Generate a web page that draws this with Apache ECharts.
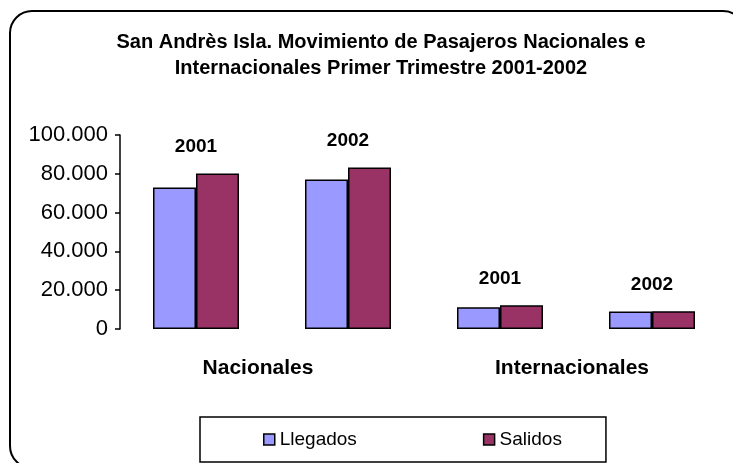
<!DOCTYPE html>
<html>
<head>
<meta charset="utf-8">
<script src="https://cdn.jsdelivr.net/npm/echarts@6/dist/echarts.min.js"></script>
<style>
  html, body { margin: 0; padding: 0; background: #fff; }
  #chart { width: 733px; height: 463px; }
</style>
</head>
<body>
<div id="chart"></div>
<script>
// Data
const categories = ['Nacionales 2001', 'Nacionales 2002', 'Internacionales 2001', 'Internacionales 2002']
const yearLabels = ['2001', '2002', '2001', '2002']
const groups = ['Nacionales', 'Internacionales']
const llegados = [73000, 77000, 11200, 9000]
const salidos = [80200, 83200, 12200, 9200]
const yTicks = [0, 20000, 40000, 60000, 80000, 100000]

const font = "'Liberation Sans', Arial, sans-serif"

const formatThousands = v => String(v).replace(/\B(?=(\d{3})+(?!\d))/g, '.')

// group labels sit a bit left of the group centre in the original
const groupLabelPad = [28, 8]

const chart = echarts.init(document.getElementById('chart'))

const option = {
  animation: false,
  backgroundColor: '#fff',
  title: {
    text: 'San Andrès Isla. Movimiento de Pasajeros Nacionales e\nInternacionales Primer Trimestre 2001-2002',
    left: 381,
    top: 29,
    padding: 0,
    textAlign: 'center',
    textStyle: {
      fontFamily: font,
      fontSize: 20,
      fontWeight: 'bold',
      color: '#000',
      lineHeight: 26,
    },
  },
  legend: {
    left: 200,
    top: 417,
    padding: [13, 44, 13, 63],
    itemGap: 126,
    itemWidth: 11,
    itemHeight: 11,
    itemStyle: { borderColor: '#000', borderWidth: 1.5 },
    borderColor: '#000',
    borderWidth: 1.5,
    icon: 'rect',
    textStyle: { fontFamily: font, fontSize: 19, color: '#000' },
    data: ['Llegados', 'Salidos'],
  },
  grid: {
    left: 120,
    right: 5,
    top: 135,
    bottom: 134,
  },
  xAxis: [
    {
      type: 'category',
      data: categories,
      axisLine: { show: false },
      axisTick: { show: false },
      axisLabel: { show: false },
    },
    {
      type: 'category',
      data: groups.map((g, i) => ({ value: g, textStyle: { padding: [0, groupLabelPad[i], 0, 0] } })),
      position: 'bottom',
      axisLine: { show: false },
      axisTick: { show: false },
      axisLabel: {
        margin: 29,
        fontFamily: font,
        fontSize: 21,
        fontWeight: 'bold',
        color: '#000',
      },
    },
  ],
  yAxis: {
    type: 'value',
    min: yTicks[0],
    max: yTicks[yTicks.length - 1],
    interval: 20000,
    splitLine: { show: false },
    axisLine: { show: true, lineStyle: { color: '#000', width: 1.5 } },
    axisTick: { show: true, length: 5, lineStyle: { color: '#000', width: 1.5 } },
    axisLabel: {
      margin: 12,
      fontFamily: font,
      fontSize: 22,
      color: '#000',
      formatter: formatThousands,
    },
  },
  series: [
    {
      name: 'Llegados',
      type: 'bar',
      data: llegados,
      barWidth: 43,
      barGap: '0%',
      itemStyle: { color: '#9999ff', borderColor: '#000', borderWidth: 1.5 },
    },
    {
      name: 'Salidos',
      type: 'bar',
      data: salidos,
      barWidth: 43,
      barGap: '0%',
      itemStyle: { color: '#993366', borderColor: '#000', borderWidth: 1.5 },
      label: {
        show: true,
        position: 'top',
        distance: 17,
        offset: [-21.5, 0],
        fontFamily: font,
        fontSize: 19,
        fontWeight: 'bold',
        color: '#000',
        formatter: p => yearLabels[p.dataIndex],
      },
    },
  ],
  graphic: [
    {
      type: 'rect',
      silent: true,
      shape: { x: 10, y: 11, width: 735, height: 457, r: 22 },
      style: { fill: 'none', stroke: '#000', lineWidth: 2 },
    },
  ],
}

chart.setOption(option)
</script>
</body>
</html>
